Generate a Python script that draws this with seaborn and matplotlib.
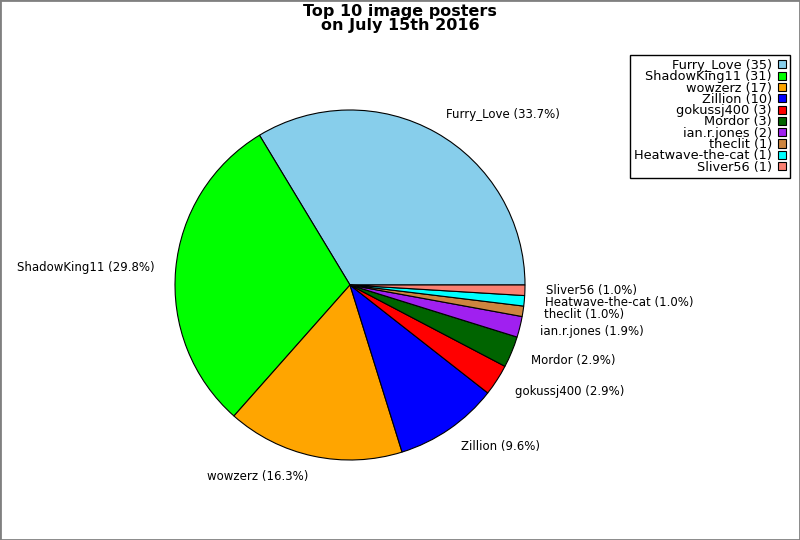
import seaborn as sns
import matplotlib.pyplot as plt
from matplotlib.patches import Rectangle

posters = ['Furry_Love', 'ShadowKing11', 'wowzerz', 'Zillion', 'gokussj400',
           'Mordor', 'ian.r.jones', 'theclit', 'Heatwave-the-cat', 'Sliver56']
counts = [35, 31, 17, 10, 3, 3, 2, 1, 1, 1]
colors = ['#87ceeb', '#00ff00', '#ffa500', '#0000ff', '#ff0000',
          '#006400', '#a020f0', '#cd853f', '#00ffff', '#fa8072']

sns.set_style("white")
plt.rcParams['font.family'] = ['DejaVu Sans']
plt.rcParams['text.color'] = 'black'

total = sum(counts)
pie_labels = [f"{p} ({c / total * 100:.1f}%)" for p, c in zip(posters, counts)]
legend_labels = [f"{p} ({c})" for p, c in zip(posters, counts)]

fig = plt.figure(figsize=(8, 5.4), dpi=100)
ax = fig.add_axes([175 / 800, 80 / 540, 350 / 800, 350 / 540])
wedges, texts = ax.pie(counts, labels=pie_labels, colors=colors, startangle=0,
                       counterclock=True, labeldistance=1.12,
                       wedgeprops={'edgecolor': 'black', 'linewidth': 0.8},
                       textprops={'fontsize': 8.5, 'color': 'black'})
ax.set_xlim(-1, 1)
ax.set_ylim(-1, 1)
ax.set_aspect('equal')

fig.suptitle("Top 10 image posters\non July 15th 2016", fontsize=11.5,
             fontweight='bold', y=0.993, linespacing=0.9, color='black')

leg = fig.legend(wedges, legend_labels, loc='upper right',
                 bbox_to_anchor=(790 / 800, 1 - 55 / 540), markerfirst=False,
                 fontsize=9.3, fancybox=False, edgecolor='black',
                 handlelength=0.6, handleheight=0.6, labelspacing=-0.13,
                 borderpad=0.3, handletextpad=0.5, framealpha=1,
                 borderaxespad=0)
for t in leg.get_texts():
    t.set_ha('right')
    t.set_color('black')
leg.get_frame().set_linewidth(1)

fig.patches.append(Rectangle((0, 0), 1, 1, transform=fig.transFigure,
                             fill=False, edgecolor='gray', linewidth=2))

fig.savefig('out.png', dpi=100)
